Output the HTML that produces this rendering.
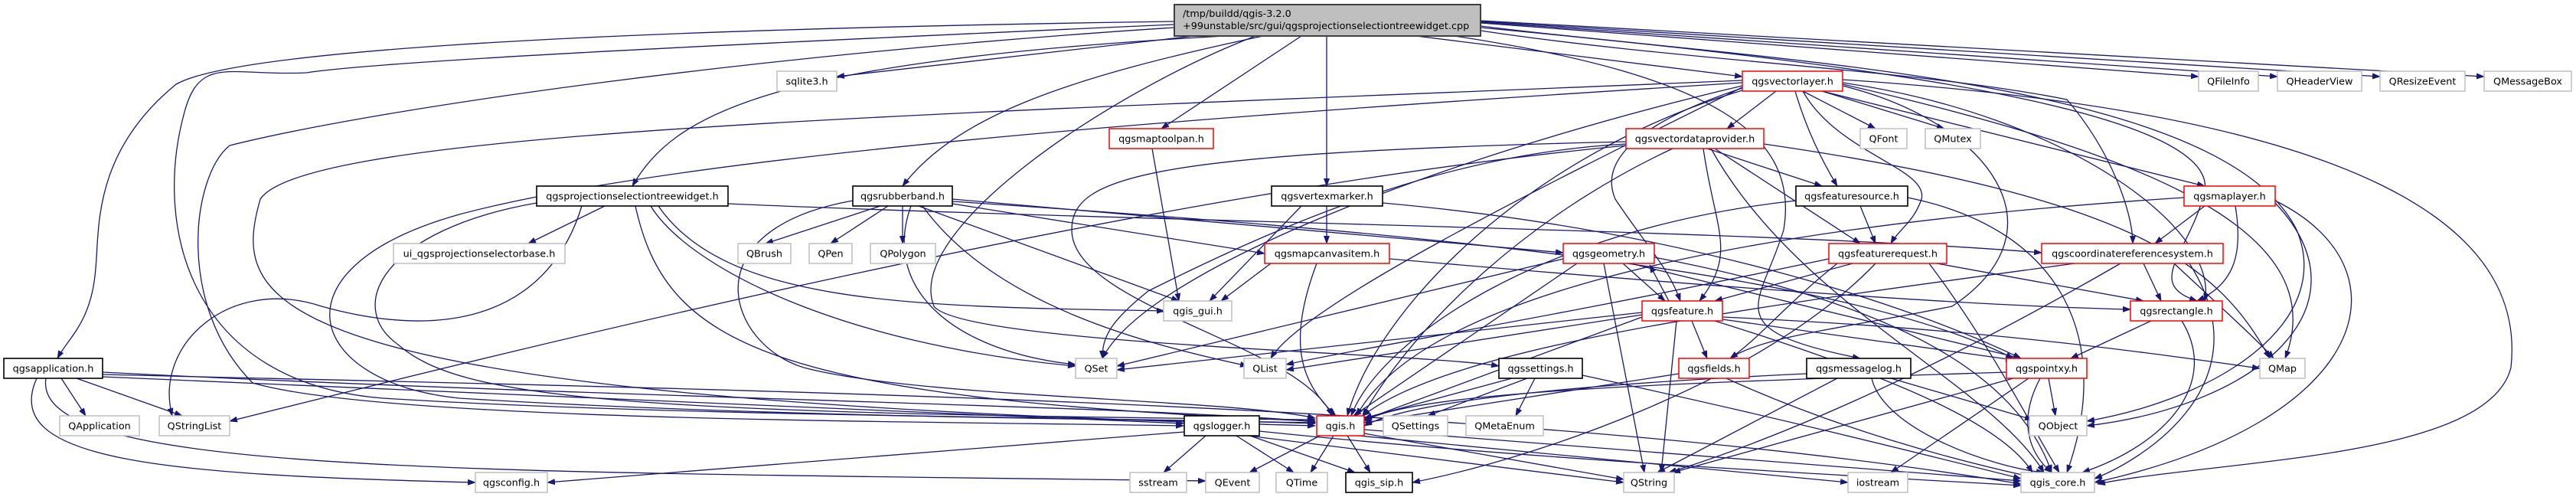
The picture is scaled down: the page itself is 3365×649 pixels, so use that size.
<!DOCTYPE html>
<html><head><meta charset="utf-8"><style>
html,body{margin:0;padding:0;background:#fff;}
svg{display:block;}
text{font-family:"DejaVu Sans","Liberation Sans",sans-serif;font-size:12.8px;fill:#000;}
.e path{fill:none;stroke:#191970;stroke-width:1.3;}
.g{fill:#fff;stroke:#bfbfbf;stroke-width:1.5;}
.b{fill:#fff;stroke:#000;stroke-width:1.6;}
.r{fill:#fff;stroke:#ff0000;stroke-width:1.5;}
</style></head><body>
<svg width="3365" height="649" viewBox="0 0 3365 649" xmlns="http://www.w3.org/2000/svg">
<defs><marker id="a" markerWidth="11" markerHeight="8" refX="10" refY="4" orient="auto" markerUnits="userSpaceOnUse"><path d="M0,0 L11,4 L0,8 z" fill="#191970"/></marker></defs>
<g class="e" marker-end="url(#a)">
<!-- root -->
<path d="M1534,28 C700,40 300,70 230,110 C120,200 130,300 125,350 C120,420 90,440 75,468" marker-end="url(#a)"/>
<path d="M1534,32 C900,60 500,80 400,95 C300,100 260,70 240,150 C200,300 250,500 500,520 C900,545 1500,545 1718,553" marker-end="url(#a)"/>
<path d="M1534,36 C1000,70 500,140 300,190 C250,230 230,400 330,500 C500,550 1200,550 1546,556" marker-end="url(#a)"/>
<path d="M1560,47 L1093,100" marker-end="url(#a)"/>
<path d="M1600,47 C1000,80 880,150 826,243" marker-end="url(#a)"/>
<path d="M1650,47 C1400,100 1250,150 1179,243" marker-end="url(#a)"/>
<path d="M1700,47 L1517,168" marker-end="url(#a)"/>
<path d="M1733,47 L1733,243" marker-end="url(#a)"/>
<path d="M1850,47 L2276,100" marker-end="url(#a)"/>
<path d="M1640,47 C1450,120 1180,300 1220,400 C1260,450 1850,460 1958,478" marker-end="url(#a)"/>
<path d="M1900,47 C2250,100 2350,180 2330,300 C2300,400 2240,430 2430,468" marker-end="url(#a)"/>
<path d="M1934,40 C2200,80 2500,90 2700,130 C2760,200 2786,280 2786,318" marker-end="url(#a)"/>
<path d="M1934,36 C2400,80 2900,140 2880,250 C2860,330 2800,370 2870,393" marker-end="url(#a)"/>
<path d="M1934,30 L2872,100" marker-end="url(#a)"/>
<path d="M1934,29 L2975,100" marker-end="url(#a)"/>
<path d="M1934,28 L3109,100" marker-end="url(#a)"/>
<path d="M1934,27 L3245,100" marker-end="url(#a)"/>
<path d="M1934,34 C2300,80 2900,100 3000,300 C3050,420 2900,520 2726,550" marker-end="url(#a)"/>
<!-- vectorlayer -->
<path d="M2320,119 L2256,168" marker-end="url(#a)"/>
<path d="M2355,119 L2450,168" marker-end="url(#a)"/>
<path d="M2380,119 L2540,168" marker-end="url(#a)"/>
<path d="M2345,119 C2360,170 2380,210 2400,243" marker-end="url(#a)"/>
<path d="M2355,119 C2400,200 2520,220 2510,260 C2500,290 2480,300 2470,318" marker-end="url(#a)"/>
<path d="M2380,119 L2880,243" marker-end="url(#a)"/>
<path d="M2276,115 C2200,140 2080,190 2110,260 C2150,320 2180,350 2195,393" marker-end="url(#a)"/>
<path d="M2276,118 C2000,200 1800,400 1760,543" marker-end="url(#a)"/>
<path d="M2276,112 C1900,200 1500,350 1440,468" marker-end="url(#a)"/>
<path d="M2276,114 C2000,250 1700,400 1660,468" marker-end="url(#a)"/>
<path d="M2407,110 C2800,200 3050,300 2985,468" marker-end="url(#a)"/>
<path d="M2407,104 C3100,150 3300,300 3280,480 C3250,600 2900,600 2740,632" marker-end="url(#a)"/>
<path d="M2276,105 C1200,150 400,170 340,260 C300,400 330,520 1718,556" marker-end="url(#a)"/>
<path d="M2276,108 C1600,150 900,200 600,280 C350,350 400,500 600,520 C1000,545 1500,548 1718,552" marker-end="url(#a)"/>
<path d="M2407,112 C2600,160 2700,300 2550,400 C2400,430 2300,440 2260,468" marker-end="url(#a)"/>
<path d="M2407,108 C2700,150 2900,300 2880,393" marker-end="url(#a)"/>
<!-- vectordataprovider -->
<path d="M2230,194 L2380,243" marker-end="url(#a)"/>
<path d="M2240,194 L2430,318" marker-end="url(#a)"/>
<path d="M2225,194 C2240,300 2270,330 2220,393" marker-end="url(#a)"/>
<path d="M2235,194 C2350,400 2600,500 2670,617" marker-end="url(#a)"/>
<path d="M2304,188 C2800,260 2900,350 2965,468" marker-end="url(#a)"/>
<path d="M2124,190 C1500,250 700,450 300,550" marker-end="url(#a)"/>
<path d="M2124,185 C1500,200 1400,230 1400,300 C1400,400 1700,450 1740,543" marker-end="url(#a)"/>
<path d="M2124,188 C1900,200 1700,280 1500,380 C1450,420 1440,440 1440,468" marker-end="url(#a)"/>
<path d="M2185,194 C2000,280 1850,420 1780,543" marker-end="url(#a)"/>
<!-- featuresource -->
<path d="M2430,269 L2450,318" marker-end="url(#a)"/>
<path d="M2346,262 C2000,300 1800,450 1765,543" marker-end="url(#a)"/>
<path d="M2492,258 C2700,300 2760,450 2700,617" marker-end="url(#a)"/>
<!-- maplayer -->
<path d="M2880,269 L2815,318" marker-end="url(#a)"/>
<path d="M2920,269 C2930,330 2920,370 2870,393" marker-end="url(#a)"/>
<path d="M2972,265 C3100,400 2950,530 2726,556" marker-end="url(#a)"/>
<path d="M2972,262 C3150,350 3100,550 2736,630" marker-end="url(#a)"/>
<path d="M2853,258 C2200,300 1850,400 1772,543" marker-end="url(#a)"/>
<!-- projsel -->
<path d="M790,269 L690,318" marker-end="url(#a)"/>
<path d="M760,269 C720,400 600,450 420,400 C300,360 200,450 225,543" marker-end="url(#a)"/>
<path d="M830,269 C870,450 1000,520 1718,550" marker-end="url(#a)"/>
<path d="M850,269 C900,350 1100,450 1405,478" marker-end="url(#a)"/>
<path d="M860,269 C950,400 1200,400 1521,406" marker-end="url(#a)"/>
<path d="M951,266 C1500,290 2300,300 2667,330" marker-end="url(#a)"/>
<path d="M701,265 C500,300 450,400 520,450 C600,520 800,540 1718,548" marker-end="url(#a)"/>
<!-- rubberband -->
<path d="M1150,269 L1000,318" marker-end="url(#a)"/>
<path d="M1160,269 L1085,318" marker-end="url(#a)"/>
<path d="M1179,269 L1179,318" marker-end="url(#a)"/>
<path d="M1200,269 L1540,393" marker-end="url(#a)"/>
<path d="M1244,266 L1652,331" marker-end="url(#a)"/>
<path d="M1244,260 L2042,330" marker-end="url(#a)"/>
<path d="M1205,269 C1300,400 1500,450 1630,478" marker-end="url(#a)"/>
<path d="M1114,262 C900,300 950,450 1050,480 C1200,520 1600,520 1718,546" marker-end="url(#a)"/>
<path d="M1244,263 C1800,300 2400,350 2630,468" marker-end="url(#a)"/>
<path d="M1190,269 C1150,380 1250,460 1405,476" marker-end="url(#a)"/>
<!-- maptoolpan, vertexmarker, mapcanvasitem -->
<path d="M1505,194 L1540,393" marker-end="url(#a)"/>
<path d="M1733,269 L1733,318" marker-end="url(#a)"/>
<path d="M1700,269 L1580,393" marker-end="url(#a)"/>
<path d="M1806,265 C2200,300 2500,400 2640,468" marker-end="url(#a)"/>
<path d="M1660,344 L1595,393" marker-end="url(#a)"/>
<path d="M1720,344 C1680,450 1700,500 1745,543" marker-end="url(#a)"/>
<path d="M1815,338 C2300,380 2600,400 2783,404" marker-end="url(#a)"/>
<!-- geometry -->
<path d="M2095,344 L2148,617" marker-end="url(#a)"/>
<path d="M2060,344 L1768,543" marker-end="url(#a)"/>
<path d="M2130,344 L2640,468" marker-end="url(#a)"/>
<path d="M2161,336 C2500,400 2640,500 2680,617" marker-end="url(#a)"/>
<path d="M2042,338 L1459,478" marker-end="url(#a)"/>
<path d="M2120,344 L2175,393" marker-end="url(#a)"/>
<!-- featurerequest -->
<path d="M2420,344 L2240,393" marker-end="url(#a)"/>
<path d="M2530,344 L2800,393" marker-end="url(#a)"/>
<path d="M2520,344 C2600,450 2650,550 2690,617" marker-end="url(#a)"/>
<path d="M2450,344 C2300,500 2000,600 1845,630" marker-end="url(#a)"/>
<path d="M2389,338 C2000,420 1800,450 1680,476" marker-end="url(#a)"/>
<path d="M2400,344 C2330,400 2300,440 2260,468" marker-end="url(#a)"/>
<!-- crs -->
<path d="M2800,344 L2823,393" marker-end="url(#a)"/>
<path d="M2840,344 C2900,400 2955,450 2970,468" marker-end="url(#a)"/>
<path d="M2860,344 C2960,500 2800,600 2736,625" marker-end="url(#a)"/>
<path d="M2770,344 C2500,500 2300,580 2180,617" marker-end="url(#a)"/>
<path d="M2710,344 C2300,400 1900,450 1780,543" marker-end="url(#a)"/>
<!-- feature -->
<path d="M2180,393 L2155,346" marker-end="url(#a)"/>
<path d="M2210,419 L2230,468" marker-end="url(#a)"/>
<path d="M2190,419 L2170,617" marker-end="url(#a)"/>
<path d="M2250,414 C2600,430 2800,460 2952,481" marker-end="url(#a)"/>
<path d="M2145,414 L1782,548" marker-end="url(#a)"/>
<path d="M2145,408 L1459,483" marker-end="url(#a)"/>
<path d="M2145,411 L1680,483" marker-end="url(#a)"/>
<path d="M2240,419 C2500,500 2620,560 2655,617" marker-end="url(#a)"/>
<path d="M2250,417 L2630,470" marker-end="url(#a)"/>
<!-- rectangle -->
<path d="M2810,419 L2705,468" marker-end="url(#a)"/>
<path d="M2850,419 C2900,500 2830,580 2720,617" marker-end="url(#a)"/>
<!-- settings -->
<path d="M1975,494 L1782,546" marker-end="url(#a)"/>
<path d="M1995,494 L1865,543" marker-end="url(#a)"/>
<path d="M2005,494 L1980,543" marker-end="url(#a)"/>
<path d="M2067,490 C2300,540 2500,590 2640,625" marker-end="url(#a)"/>
<!-- fields -->
<path d="M2193,488 L1782,552" marker-end="url(#a)"/>
<path d="M2255,494 C2400,560 2550,600 2650,622" marker-end="url(#a)"/>
<!-- messagelog -->
<path d="M2360,488 C2100,500 1850,520 1782,556" marker-end="url(#a)"/>
<path d="M2400,494 L2165,617" marker-end="url(#a)"/>
<path d="M2445,494 C2460,560 2600,610 2670,617" marker-end="url(#a)"/>
<path d="M2470,494 L2655,548" marker-end="url(#a)"/>
<!-- pointxy -->
<path d="M2621,486 C2200,500 1850,510 1782,550" marker-end="url(#a)"/>
<path d="M2676,494 L2685,543" marker-end="url(#a)"/>
<path d="M2665,494 C2630,560 2660,600 2680,617" marker-end="url(#a)"/>
<path d="M2630,494 L2185,617" marker-end="url(#a)"/>
<path d="M2650,494 L2470,617" marker-end="url(#a)"/>
<!-- qgsapplication -->
<path d="M80,494 L112,543" marker-end="url(#a)"/>
<path d="M100,494 L238,543" marker-end="url(#a)"/>
<path d="M134,486 C800,520 1500,530 1718,551" marker-end="url(#a)"/>
<path d="M48,494 C0,600 200,620 621,630" marker-end="url(#a)"/>
<path d="M60,494 C40,620 600,615 1575,628" marker-end="url(#a)"/>
<path d="M134,489 C1000,510 2000,525 2640,632" marker-end="url(#a)"/>
<path d="M134,492 L1546,553" marker-end="url(#a)"/>
<!-- logger -->
<path d="M1575,569 L1520,617" marker-end="url(#a)"/>
<path d="M1615,569 L1690,617" marker-end="url(#a)"/>
<path d="M1547,564 L715,630" marker-end="url(#a)"/>
<path d="M1645,563 C2000,600 2400,620 2640,634" marker-end="url(#a)"/>
<path d="M1630,569 L2121,630" marker-end="url(#a)"/>
<path d="M1630,568 L1770,617" marker-end="url(#a)"/>
<!-- qgis.h -->
<path d="M1742,569 L1712,617" marker-end="url(#a)"/>
<path d="M1760,569 L1790,617" marker-end="url(#a)"/>
<path d="M1782,566 L2121,626" marker-end="url(#a)"/>
<path d="M1782,561 L2640,628" marker-end="url(#a)"/>
<path d="M1775,569 L2414,630" marker-end="url(#a)"/>
<path d="M1728,567 L1632,617" marker-end="url(#a)"/>
</g>
<!-- root -->
<rect x="1534" y="6" width="400" height="41" fill="#bfbfbf" stroke="#404040" stroke-width="2"/>
<text x="1545" y="22">/tmp/buildd/qgis-3.2.0</text>
<text x="1545" y="38">+99unstable/src/gui/qgsprojectionselectiontreewidget.cpp</text>
<g text-anchor="middle">
<!-- row1 top 93 -->
<rect class="g" x="1015" y="93" width="78" height="26"/><text x="1054" y="110.5">sqlite3.h</text>
<rect class="r" x="2276" y="93" width="131" height="26"/><text x="2341.5" y="110.5">qgsvectorlayer.h</text>
<rect class="g" x="2872" y="93" width="78" height="26"/><text x="2911" y="110.5">QFileInfo</text>
<rect class="g" x="2975" y="93" width="110" height="26"/><text x="3030" y="110.5">QHeaderView</text>
<rect class="g" x="3109" y="93" width="111" height="26"/><text x="3164.5" y="110.5">QResizeEvent</text>
<rect class="g" x="3245" y="93" width="114" height="26"/><text x="3302" y="110.5">QMessageBox</text>
<!-- row2 top 168 -->
<rect class="r" x="1449" y="168" width="136" height="26"/><text x="1517" y="185.5">qgsmaptoolpan.h</text>
<rect class="r" x="2124" y="168" width="180" height="26"/><text x="2214" y="185.5">qgsvectordataprovider.h</text>
<rect class="g" x="2430" y="168" width="61" height="26"/><text x="2460.5" y="185.5">QFont</text>
<rect class="g" x="2515" y="168" width="72" height="26"/><text x="2551" y="185.5">QMutex</text>
<!-- row3 top 243 -->
<rect class="b" x="701" y="243" width="250" height="26"/><text x="826" y="260.5">qgsprojectionselectiontreewidget.h</text>
<rect class="b" x="1114" y="243" width="130" height="26"/><text x="1179" y="260.5">qgsrubberband.h</text>
<rect class="b" x="1661" y="243" width="145" height="26"/><text x="1733.5" y="260.5">qgsvertexmarker.h</text>
<rect class="b" x="2346" y="243" width="146" height="26"/><text x="2419" y="260.5">qgsfeaturesource.h</text>
<rect class="r" x="2853" y="243" width="119" height="26"/><text x="2912.5" y="260.5">qgsmaplayer.h</text>
<!-- row4 top 318 -->
<rect class="g" x="514" y="318" width="224" height="26"/><text x="626" y="335.5">ui_qgsprojectionselectorbase.h</text>
<rect class="g" x="964" y="318" width="69" height="26"/><text x="998.5" y="335.5">QBrush</text>
<rect class="g" x="1057" y="318" width="56" height="26"/><text x="1085" y="335.5">QPen</text>
<rect class="g" x="1137" y="318" width="85" height="26"/><text x="1179.5" y="335.5">QPolygon</text>
<rect class="r" x="1652" y="318" width="163" height="26"/><text x="1733.5" y="335.5">qgsmapcanvasitem.h</text>
<rect class="r" x="2042" y="318" width="119" height="26"/><text x="2101.5" y="335.5">qgsgeometry.h</text>
<rect class="r" x="2389" y="318" width="154" height="26"/><text x="2466" y="335.5">qgsfeaturerequest.h</text>
<rect class="r" x="2667" y="318" width="237" height="26"/><text x="2785.5" y="335.5">qgscoordinatereferencesystem.h</text>
<!-- row5 top 393 -->
<rect class="g" x="1520" y="393" width="89" height="26"/><text x="1564.5" y="410.5">qgis_gui.h</text>
<rect class="r" x="2145" y="393" width="105" height="26"/><text x="2197.5" y="410.5">qgsfeature.h</text>
<rect class="r" x="2783" y="393" width="120" height="26"/><text x="2843" y="410.5">qgsrectangle.h</text>
<!-- row6 top 468 -->
<rect class="b" x="5" y="468" width="129" height="26"/><text x="69.5" y="485.5">qgsapplication.h</text>
<rect class="g" x="1405" y="468" width="54" height="26"/><text x="1432" y="485.5">QSet</text>
<rect class="g" x="1625" y="468" width="55" height="26"/><text x="1652.5" y="485.5">QList</text>
<rect class="b" x="1958" y="468" width="109" height="26"/><text x="2012.5" y="485.5">qgssettings.h</text>
<rect class="r" x="2193" y="468" width="92" height="26"/><text x="2239" y="485.5">qgsfields.h</text>
<rect class="b" x="2360" y="468" width="136" height="26"/><text x="2428" y="485.5">qgsmessagelog.h</text>
<rect class="r" x="2621" y="468" width="105" height="26"/><text x="2673.5" y="485.5">qgspointxy.h</text>
<rect class="g" x="2952" y="468" width="59" height="26"/><text x="2981.5" y="485.5">QMap</text>
<!-- row7 top 543 -->
<rect class="g" x="78" y="543" width="104" height="26"/><text x="130" y="560.5">QApplication</text>
<rect class="g" x="208" y="543" width="92" height="26"/><text x="254" y="560.5">QStringList</text>
<rect class="b" x="1547" y="543" width="98" height="26"/><text x="1596" y="560.5">qgslogger.h</text>
<rect class="r" x="1720" y="543" width="62" height="26"/><text x="1751" y="560.5">qgis.h</text>
<rect class="g" x="1807" y="543" width="84" height="26"/><text x="1849" y="560.5">QSettings</text>
<rect class="g" x="1915" y="543" width="101" height="26"/><text x="1965.5" y="560.5">QMetaEnum</text>
<rect class="g" x="2651" y="543" width="75" height="26"/><text x="2688.5" y="560.5">QObject</text>
<!-- row8 top 617 -->
<rect class="g" x="621" y="617" width="94" height="26"/><text x="668" y="634.5">qgsconfig.h</text>
<rect class="g" x="1476" y="617" width="74" height="26"/><text x="1513" y="634.5">sstream</text>
<rect class="g" x="1575" y="617" width="70" height="26"/><text x="1610" y="634.5">QEvent</text>
<rect class="g" x="1667" y="617" width="67" height="26"/><text x="1700.5" y="634.5">QTime</text>
<rect class="b" x="1758" y="617" width="87" height="26"/><text x="1801.5" y="634.5">qgis_sip.h</text>
<rect class="g" x="2121" y="617" width="66" height="26"/><text x="2154" y="634.5">QString</text>
<rect class="g" x="2414" y="617" width="78" height="26"/><text x="2453" y="634.5">iostream</text>
<rect class="g" x="2640" y="617" width="96" height="26"/><text x="2688" y="634.5">qgis_core.h</text>
</g>
</svg>
</body></html>
